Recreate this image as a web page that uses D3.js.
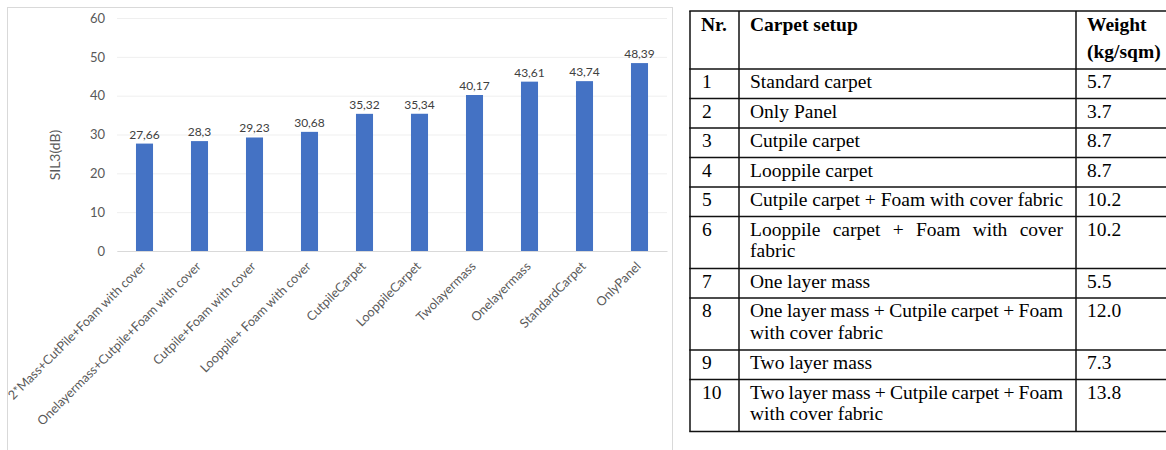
<!DOCTYPE html>
<html>
<head>
<meta charset="utf-8">
<script src="https://cdn.jsdelivr.net/npm/d3@7"></script>
<style>
  body { margin: 0; background: #fff; }
  svg { display: block; }
</style>
</head>
<body>
<svg id="fig"></svg>
<script>
// chart data
const setups = [
  "2*Mass+CutPile+Foam with cover",
  "Onelayermass+Cutpile+Foam with cover",
  "Cutpile+Foam with cover",
  "Looppile+ Foam with cover",
  "CutpileCarpet",
  "LooppileCarpet",
  "Twolayermass",
  "Onelayermass",
  "StandardCarpet",
  "OnlyPanel"
];
const sil = [27.66, 28.3, 29.23, 30.68, 35.32, 35.34, 40.17, 43.61, 43.74, 48.39];
const yTicks = [0, 10, 20, 30, 40, 50, 60];
const yTitle = "SIL3(dB)";

// table data
const tableHeader = [["Nr."], ["Carpet setup"], ["Weight", "(kg/sqm)"]];
const tableNr = ["1", "2", "3", "4", "5", "6", "7", "8", "9", "10"];
const tableSetup = [
  "Standard carpet",
  "Only Panel",
  "Cutpile carpet",
  "Looppile carpet",
  "Cutpile carpet + Foam with cover fabric",
  "Looppile carpet + Foam with cover fabric",
  "One layer mass",
  "One layer mass + Cutpile carpet + Foam with cover fabric",
  "Two layer mass",
  "Two layer mass + Cutpile carpet + Foam with cover fabric"
];
const tableWeight = ["5.7", "3.7", "8.7", "8.7", "10.2", "10.2", "5.5", "12.0", "7.3", "13.8"];

const width = 1166, height = 450;
const svg = d3.select("#fig").attr("width", width).attr("height", height);

// ---- bar chart ----
svg.append("rect")
  .attr("x", 7.5).attr("y", 7.5)
  .attr("width", 665).attr("height", 470)
  .attr("fill", "#fff")
  .attr("stroke", "#d9d9d9");

const chartFont = "Lato, 'Open Sans', sans-serif";

const x = d3.scaleBand()
  .domain(setups)
  .range([117, 667])
  .paddingInner(0.69)
  .paddingOuter(0.345);

const y = d3.scaleLinear().domain([0, 60]).range([251, 18]);

const yAxis = svg.append("g")
  .attr("transform", "translate(117,0)")
  .call(d3.axisLeft(y).tickValues(yTicks).tickSize(-550).tickPadding(12));
yAxis.select(".domain").remove();
yAxis.selectAll(".tick line").attr("stroke", "#efefef");
yAxis.selectAll(".tick text")
  .attr("font-family", chartFont)
  .attr("font-size", 13)
  .attr("fill", "#595959");

const xAxis = svg.append("g")
  .attr("transform", "translate(0,251)")
  .call(d3.axisBottom(x).tickSize(0));
xAxis.select(".domain").attr("stroke", "#d9d9d9");
xAxis.selectAll(".tick text")
  .attr("font-family", chartFont)
  .attr("font-size", 12.7)
  .attr("fill", "#595959")
  .attr("text-anchor", "end")
  .attr("x", 0).attr("y", 0)
  .attr("dy", "0.35em")
  .attr("transform", "translate(-1,13) rotate(-45)");

svg.append("g").selectAll("rect")
  .data(sil)
  .join("rect")
  .attr("x", (d, i) => x(setups[i]))
  .attr("y", d => y(d))
  .attr("width", x.bandwidth())
  .attr("height", d => y(0) - y(d))
  .attr("fill", "#4472c4");

svg.append("g").selectAll("text")
  .data(sil)
  .join("text")
  .attr("x", (d, i) => x(setups[i]) + x.bandwidth() / 2)
  .attr("y", d => y(d) - 5)
  .attr("text-anchor", "middle")
  .attr("font-family", chartFont)
  .attr("font-size", 12)
  .attr("fill", "#404040")
  .text(d => String(d).replace(".", ","));

svg.append("text")
  .attr("transform", "translate(55,155) rotate(-90)")
  .attr("text-anchor", "middle")
  .attr("dy", "0.35em")
  .attr("font-family", chartFont)
  .attr("font-size", 14)
  .attr("fill", "#595959")
  .text(yTitle);

// ---- table ----
const tbl = svg.append("g")
  .attr("font-family", "'Liberation Serif', 'Times New Roman', serif")
  .attr("font-size", 19.5)
  .attr("fill", "#000");

const colX = [690, 739, 1076, 1175];
const textX = [702, 750, 1087];
const setupWidth = 313;
const tableTop = 11, headerH = 58;

function measure(str) {
  const t = tbl.append("text").text(str);
  const w = t.node().getComputedTextLength();
  t.remove();
  return w;
}

function wrap(str, maxW) {
  const words = str.split(" ");
  const lines = [];
  let cur = words[0];
  for (let i = 1; i < words.length; i++) {
    const test = cur + " " + words[i];
    if (measure(test) > maxW) { lines.push(cur); cur = words[i]; }
    else cur = test;
  }
  lines.push(cur);
  return lines;
}

// header
tableHeader.forEach((lines, c) => {
  lines.forEach((ln, k) => {
    tbl.append("text")
      .attr("x", textX[c] - (c === 0 ? 1 : 0))
      .attr("y", tableTop + 20 + k * 27)
      .attr("font-weight", "bold")
      .text(ln);
  });
});

const rowLines = tableSetup.map(s => wrap(s, setupWidth + 8));
const rowTops = [];
let yy = tableTop + headerH;
rowLines.forEach(lines => {
  rowTops.push(yy);
  yy += 29.5 + (lines.length - 1) * 22.5;
});
const tableBottom = yy;

rowLines.forEach((lines, r) => {
  const top = rowTops[r];
  tbl.append("text").attr("x", textX[0]).attr("y", top + 19).text(tableNr[r]);
  tbl.append("text").attr("x", textX[2]).attr("y", top + 19).text(tableWeight[r]);
  lines.forEach((ln, k) => {
    const t = tbl.append("text")
      .attr("x", textX[1])
      .attr("y", top + 19 + k * 21.5)
      .text(ln);
    const gaps = ln.split(" ").length - 1;
    if (k < lines.length - 1 && gaps > 0) {
      const w = t.node().getComputedTextLength();
      t.attr("word-spacing", (setupWidth - w) / gaps);
    }
  });
});

const hLines = [tableTop, tableTop + headerH, ...rowTops.slice(1), tableBottom];
tbl.append("g").selectAll("line")
  .data(hLines)
  .join("line")
  .attr("x1", colX[0] - 0.75).attr("x2", colX[3])
  .attr("y1", d => d).attr("y2", d => d)
  .attr("stroke", "#111")
  .attr("stroke-width", 1.5);

tbl.append("g").selectAll("line")
  .data(colX.slice(0, 3))
  .join("line")
  .attr("x1", d => d).attr("x2", d => d)
  .attr("y1", tableTop).attr("y2", tableBottom)
  .attr("stroke", "#111")
  .attr("stroke-width", 1.5);
</script>
</body>
</html>
